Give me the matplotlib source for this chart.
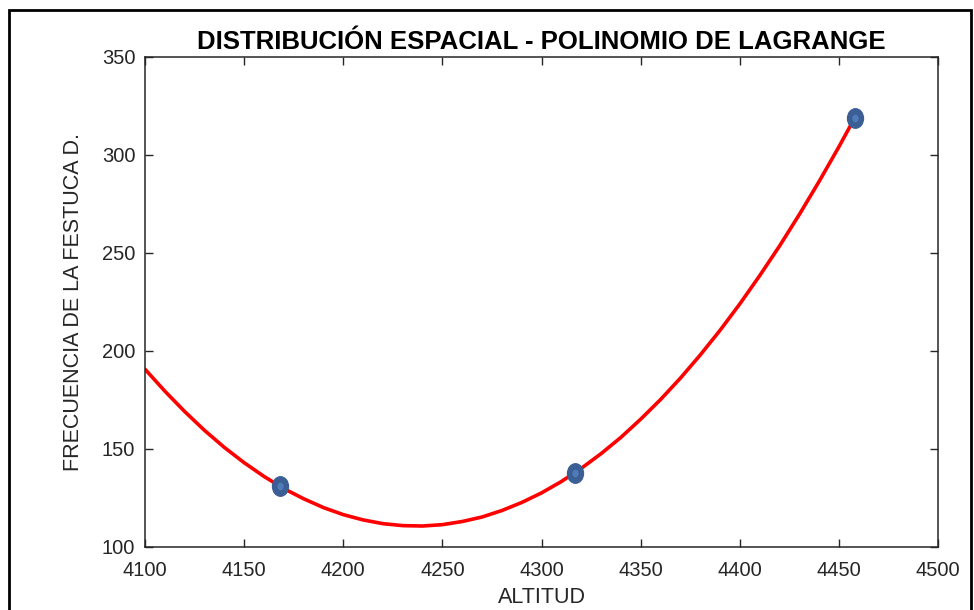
import numpy as np
import matplotlib.pyplot as plt
from matplotlib.path import Path
from matplotlib.transforms import Affine2D
from matplotlib.patches import Rectangle

plt.rcParams['font.family'] = ['Liberation Sans', 'DejaVu Sans']

# measured points (altitude, frequency)
alt_pts = [4168, 4317, 4458]
freq_pts = [131, 138, 319]

# curve
alt_curve = [4100, 4110, 4120, 4130, 4140, 4150, 4160, 4170, 4180, 4190,
             4200, 4210, 4220, 4230, 4240, 4250, 4260, 4270, 4280, 4290,
             4300, 4310, 4320, 4330, 4340, 4350, 4360, 4370, 4380, 4390,
             4400, 4410, 4420, 4430, 4440, 4450, 4458]
freq_curve = [190.7, 179.5, 169.1, 159.5, 150.8, 143.0, 136.0, 129.8, 124.6, 120.1,
              116.5, 113.8, 111.9, 110.9, 110.7, 111.4, 113.0, 115.3, 118.6, 122.7,
              127.6, 133.4, 140.1, 147.6, 155.9, 165.2, 175.2, 186.1, 197.9, 210.5,
              224.0, 238.4, 253.5, 269.6, 286.5, 304.2, 319.0]

xticks = [4100, 4150, 4200, 4250, 4300, 4350, 4400, 4450, 4500]
yticks = [100, 150, 200, 250, 300, 350]

fig = plt.figure(figsize=(9.74, 6.1), dpi=100)
ax = fig.add_axes([0.1489, 0.1033, 0.8142, 0.8033])

# slightly tall ellipse marker
ell = Affine2D().scale(0.82, 1.0).transform_path(Path.unit_circle())

ax.plot(alt_curve, freq_curve, color='red', linewidth=2.6,
        solid_capstyle='round', solid_joinstyle='round')
ax.plot(alt_pts, freq_pts, linestyle='none', marker=ell, markersize=14,
        markerfacecolor='#3b5f95', markeredgecolor='#3b5f95', zorder=3)
ax.plot(alt_pts, freq_pts, linestyle='none', marker=ell, markersize=5.5,
        markerfacecolor='#4f7cb8', markeredgecolor='none', zorder=4)

ax.set_xlim(4100, 4500)
ax.set_ylim(100, 350)
ax.set_xticks(xticks)
ax.set_yticks(yticks)
ax.tick_params(direction='in', length=6, width=1, top=True, right=True,
               labelsize=14.5, colors='#262626')
ax.tick_params(axis='x', pad=10)
ax.tick_params(axis='y', pad=7)
for s in ax.spines.values():
    s.set_color('#262626')
    s.set_linewidth(1.1)

ax.set_title('DISTRIBUCIÓN ESPACIAL - POLINOMIO DE LAGRANGE',
             fontsize=18.5, fontweight='bold', pad=6)
ax.set_xlabel('ALTITUD', fontsize=15.5, color='#262626', labelpad=5)
ax.set_ylabel('FRECUENCIA DE LA FESTUCA D.', fontsize=15.5, color='#262626', labelpad=13)

# outer frame around the figure
fig.patches.append(Rectangle((9 / 974, -0.05), 962 / 974, 1.05 - 10 / 610,
                             transform=fig.transFigure, fill=False,
                             edgecolor='black', linewidth=2))

fig.savefig('out.png', dpi=100)
